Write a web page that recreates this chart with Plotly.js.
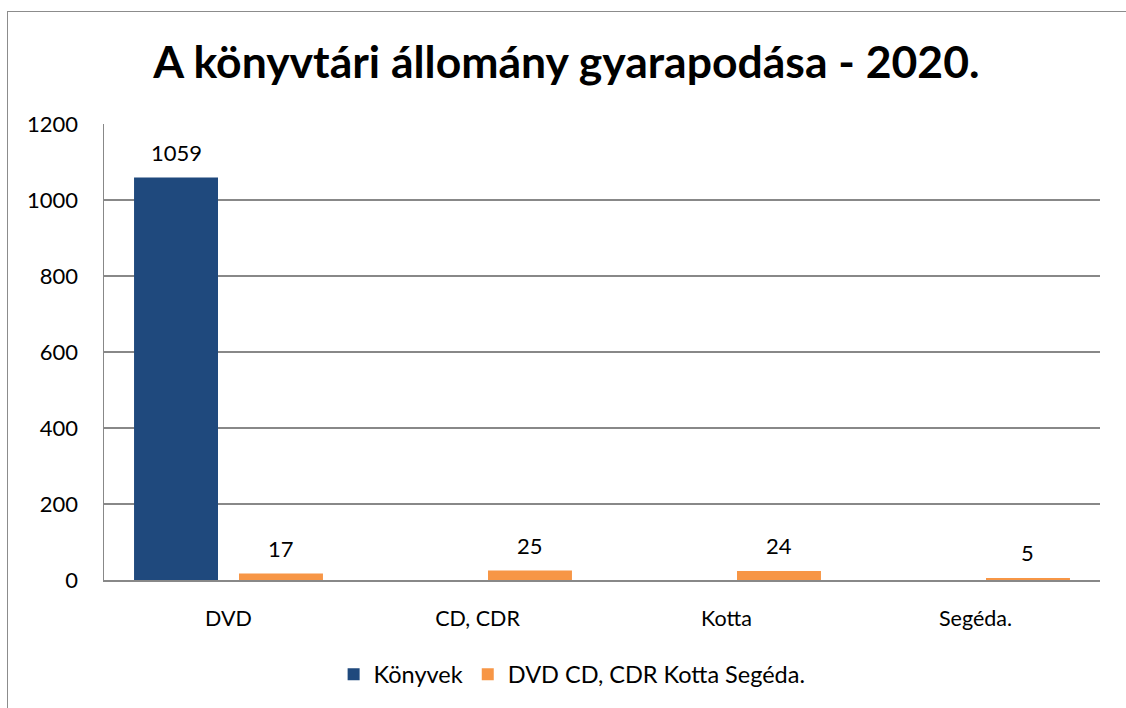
<!DOCTYPE html>
<html>
<head>
<meta charset="utf-8">
<script src="https://cdn.plot.ly/plotly-3.0.1.min.js"></script>
<style>
html,body{margin:0;padding:0;background:#fff;overflow:hidden;}
#wrap{position:relative;width:1126px;height:708px;overflow:hidden;}
#frame{position:absolute;left:7px;top:11px;width:1300px;height:900px;border:1.5px solid #8c8c8c;pointer-events:none;z-index:5;}
#chart{position:absolute;left:0;top:0;width:1126px;height:708px;}
</style>
</head>
<body>
<div id="wrap">
<div id="chart"></div>
<div id="frame"></div>
</div>
<script>
const categories = ['DVD', 'CD, CDR', 'Kotta', 'Segéda.'];
const seriesNames = ['Könyvek', 'DVD CD, CDR Kotta Segéda.'];
const konyvek = [1059, null, null, null];
const egyeb = [17, 25, 24, 5];
const yTicks = [0, 200, 400, 600, 800, 1000, 1200];

const FONT = 'Lato, "Open Sans", sans-serif';
const W = 1126, H = 708;
const M = {l: 104, r: 26, t: 124, b: 126};
const BARGAP = 0.157;

const series = [konyvek, egyeb];
const colors = ['#1F497D', '#F79646'];

const traces = series.map((vals, i) => ({
  type: 'bar', name: seriesNames[i], x: categories, y: vals,
  marker: {color: colors[i]}, hoverinfo: 'skip'
}));

// data labels above each bar, offset to each bar's slot within the group
const catPx = (W - M.l - M.r) / categories.length;
const slotPx = catPx * (1 - BARGAP) / series.length;
const annotations = [];
series.forEach((vals, i) => {
  const shift = (i - (series.length - 1) / 2) * slotPx;
  vals.forEach((v, j) => {
    if (v === null) return;
    annotations.push({
      x: categories[j], y: v, xref: 'x', yref: 'y',
      text: String(v), showarrow: false,
      xanchor: 'center', yanchor: 'bottom',
      xshift: shift, yshift: 10,
      font: {family: FONT, size: 22, color: '#000'}
    });
  });
});

const layout = {
  width: W, height: H,
  margin: M,
  paper_bgcolor: '#fff', plot_bgcolor: '#fff',
  font: {family: FONT, size: 22, color: '#000'},
  title: {
    text: '<b>A könyvtári állomány gyarapodása - 2020.</b>',
    font: {family: FONT, size: 44.5, color: '#000'},
    x: 0.503, xanchor: 'center', xref: 'container',
    y: 72, yref: 'container', yanchor: 'middle'
  },
  barmode: 'group', bargap: BARGAP, bargroupgap: 0.2,
  xaxis: {
    type: 'category', showgrid: false, showline: true,
    linecolor: '#888', linewidth: 2, ticks: '',
    ticklabelstandoff: 18, tickfont: {family: FONT, size: 21.5, color: '#000'},
    zeroline: false, fixedrange: true
  },
  yaxis: {
    range: [0, 1200], tickvals: yTicks, ticktext: yTicks.map(String),
    showgrid: true, gridcolor: '#888', gridwidth: 1.5,
    showline: true, linecolor: '#888', linewidth: 1.5, ticks: '',
    ticklabelstandoff: 20, tickfont: {family: FONT, size: 22, color: '#000'},
    zeroline: false, fixedrange: true
  },
  legend: {
    orientation: 'h', x: 0.47, xanchor: 'center', y: -0.207, yanchor: 'middle',
    font: {family: FONT, size: 23.5, color: '#000'},
    itemwidth: 30, traceorder: 'normal'
  },
  annotations: annotations,
  showlegend: true
};

Plotly.newPlot('chart', traces, layout, {displayModeBar: false, staticPlot: true});
</script>
</body>
</html>
